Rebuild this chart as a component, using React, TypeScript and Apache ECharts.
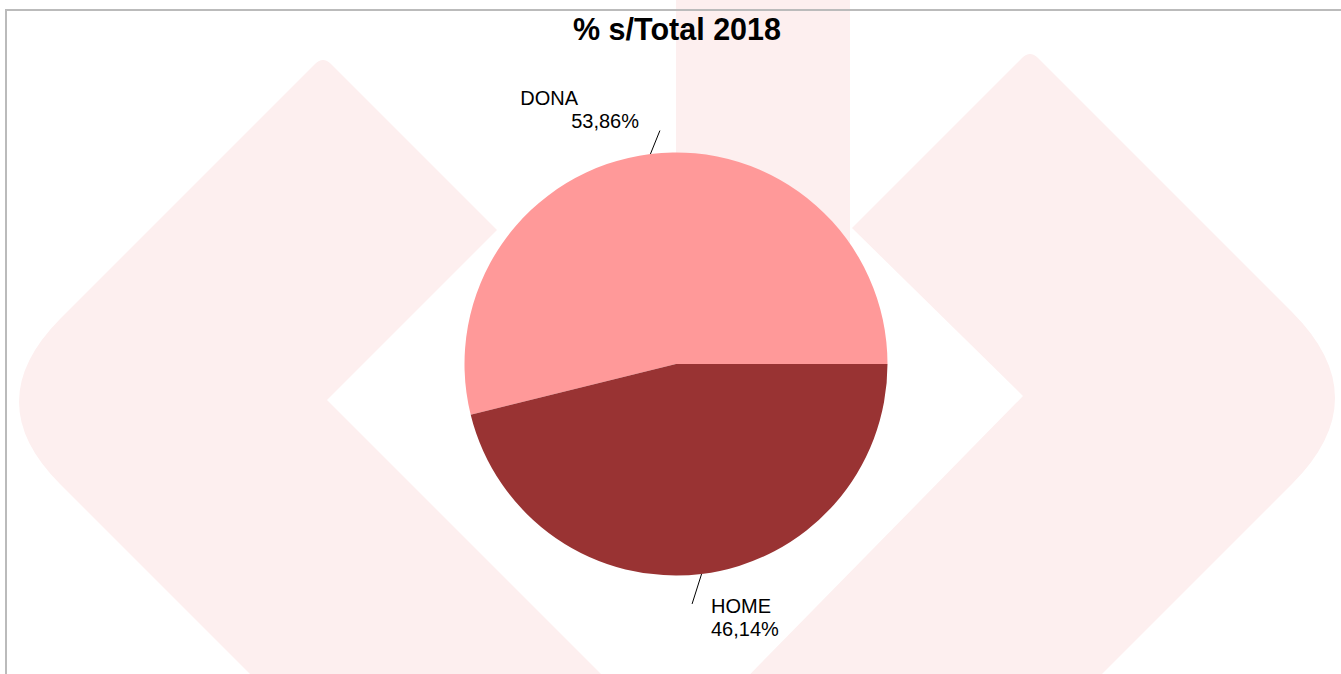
import React, { useEffect, useRef } from "react";
import * as echarts from "echarts";

const titleText = "% s/Total 2018";
const categories = ["DONA", "HOME"];
const shares = [53.86, 46.14];
const sliceColors = ["#FF9999", "#993333"];

const FONT = "'Liberation Sans', Arial, Helvetica, sans-serif";

// label fine tuning (offsets relative to the library's default placement)
const labelAdjust = [
  { dx: -3, dy: -17, lx: 9.5, ly: -23.5 },
  { dx: 1, dy: 16, lx: -9.5, ly: 30 },
];

const WM_CHEVRONS =
  "M 315 64 Q 323 56 331 64 L 497 230 L 327 400 L 640 713 L 289 713 L 60 484 Q -22 402 60 319 Z " +
  "M 1038 58 Q 1030 50 1022 58 L 852 228 L 1023 396 L 712 713 L 1063 713 L 1292 484 Q 1378 398 1292 312 Z";

let registered = false;
function ensureShapes() {
  if (registered) return;
  echarts.graphic.registerShape(
    "wmChevrons",
    echarts.graphic.extendPath(WM_CHEVRONS, {}) as any
  );
  registered = true;
}

export default function App() {
  const ref = useRef<HTMLDivElement>(null);

  useEffect(() => {
    if (!ref.current) return;
    ensureShapes();
    const chart = echarts.init(ref.current, undefined, { renderer: "svg" });
    const fmtPct = (v: number) => v.toFixed(2).replace(".", ",") + "%";

    chart.setOption({
      animation: false,
      backgroundColor: "#ffffff",
      title: {
        text: titleText,
        left: 677,
        top: 13,
        padding: 0,
        textAlign: "center",
        textStyle: {
          fontFamily: FONT,
          fontSize: 30.5,
          fontWeight: "bold",
          color: "#000000",
        },
      },
      graphic: [
        {
          type: "wmChevrons",
          x: 0,
          y: 0,
          z: 0,
          silent: true,
          style: { fill: "#fdefef" },
        },
        {
          type: "rect",
          z: 0,
          silent: true,
          shape: { x: 676, y: 0, width: 174, height: 300 },
          style: { fill: "#fdefef" },
        },
        {
          type: "rect",
          z: 1,
          silent: true,
          shape: { x: 6, y: 10, width: 1400, height: 700 },
          style: { fill: "none", stroke: "#bbbbbb", lineWidth: 2 },
        },
      ],
      series: [
        {
          type: "pie",
          z: 3,
          center: [676, 364],
          radius: 211.5,
          startAngle: 0,
          clockwise: false,
          avoidLabelOverlap: false,
          itemStyle: { borderWidth: 0 },
          emphasis: { disabled: true },
          label: {
            show: true,
            position: "outside",
            color: "#000",
            fontFamily: FONT,
            fontSize: 20,
            lineHeight: 23,
            formatter: (p: any) => {
              const nameStyle = p.dataIndex === 0 ? "nd" : "n";
              return `{${nameStyle}|${p.name}}\n{p|${fmtPct(p.percent)}}`;
            },
            rich: {
              n: { fontFamily: FONT, fontSize: 20, lineHeight: 23, color: "#000" },
              nd: {
                fontFamily: FONT,
                fontSize: 20,
                lineHeight: 23,
                color: "#000",
                padding: [0, 61, 0, 0],
              },
              p: { fontFamily: FONT, fontSize: 20, lineHeight: 23, color: "#000" },
            },
          },
          labelLine: {
            show: true,
            length: 28,
            length2: 0,
            smooth: false,
            lineStyle: { color: "#000", width: 1 },
          },
          labelLayout: (params: any) => {
            const adj = labelAdjust[params.dataIndex];
            const pts = params.labelLinePoints;
            const out: any = { dx: adj.dx, dy: adj.dy };
            if (pts && pts[0]) {
              const p0 = pts[0];
              out.labelLinePoints = [
                [p0[0], p0[1]],
                [p0[0] + adj.lx, p0[1] + adj.ly],
              ];
            }
            return out;
          },
          data: categories.map((name, i) => ({
            name,
            value: shares[i],
            itemStyle: { color: sliceColors[i] },
          })),
        },
      ],
    });

    return () => {
      chart.dispose();
    };
  }, []);

  return (
    <div
      ref={ref}
      style={{ position: "absolute", left: 0, top: 0, width: 1341, height: 674 }}
    />
  );
}
